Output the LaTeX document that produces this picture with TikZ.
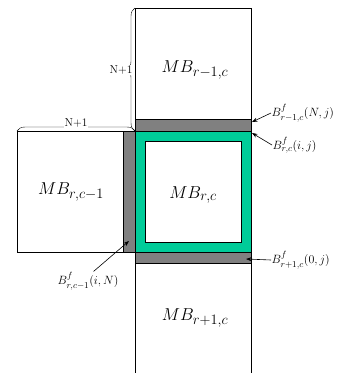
\documentclass[tikz,border=0pt]{standalone}
\usepackage{amsmath,amssymb}
\usetikzlibrary{decorations.pathreplacing}
\usetikzlibrary{positioning,arrows.meta}

\definecolor{franjagris}{RGB}{128,128,128}
\definecolor{franjaverde}{RGB}{0,204,153}

\begin{document}
\begin{tikzpicture}[x=1pt,y=-1pt,>={Stealth[length=5.5pt,width=4pt]},
  bloque/.style={font=\fontsize{19}{22}\selectfont},
  frontera/.style={font=\fontsize{13}{15}\selectfont,inner sep=0.5pt},
  tamano/.style={fill=white,inner sep=1pt,font=\fontsize{11.5}{13}\selectfont},
  llave/.style={decorate,decoration={brace,amplitude=8pt}},
  flecha/.style={->,semithick}]

\useasboundingbox (0,0) rectangle (344,373);

%---------------------------------
% FRANJAS DE FRONTERA
%---------------------------------
\fill[franjagris] (135,119) rectangle (251,131);   % fila N del bloque superior
\fill[franjagris] (135,252) rectangle (251,263);   % fila 0 del bloque inferior
\fill[franjagris] (123,131) rectangle (135,252);   % columna N del bloque izquierdo
\fill[franjaverde] (135,131) rectangle (251,252);  % borde del bloque actual
\fill[white] (145,141) rectangle (241,242);

%---------------------------------
% CONTORNOS DE LOS BLOQUES
%---------------------------------
\draw (135,8) rectangle (251,119);
\draw (135,119) rectangle (251,131);
\draw (135,131) rectangle (251,252);
\draw (145,141) rectangle (241,242);
\draw (135,252) rectangle (251,263);
\draw (17,131) rectangle (123,252);
\draw (123,131) rectangle (135,252);
\draw (135,373) -- (135,263);
\draw (251,373) -- (251,263);

% nombres de los bloques
\node[bloque] (mbarriba) at (195,70) {$MB_{r-1,c}$};
\node[bloque] (mbizq) at (71,192) {$MB_{r,c-1}$};
\node[bloque] (mbcentro) at (193,195) {$MB_{r,c}$};
\node[bloque] (mbabajo) at (195,318) {$MB_{r+1,c}$};

%---------------------------------
% LLAVES DE TAMAÑO
%---------------------------------
\draw[llave] (135,131) -- (135,8);
\draw[llave] (17,131) -- (135,131);
\node[tamano] (tamv) at (121,70) {N+1};
\node[tamano] (tamh) at (76,123) {N+1};

%---------------------------------
% ETIQUETAS DE LAS FRONTERAS
%---------------------------------
\coordinate (psup) at (252,122);
\coordinate (pcen) at (252,133);
\coordinate (pinf) at (246,259);
\coordinate (pizq) at (129,241);

\node[frontera,anchor=west] (bsup) at (271,113) {$B^{f}_{r-1,c}(N,j)$};
\node[frontera,anchor=west] (bcen) at (272,145) {$B^{f}_{r,c}(i,j)$};
\node[frontera,anchor=west] (binf) at (271,260) {$B^{f}_{r+1,c}(0,j)$};
\node[frontera] (bizq) at (88,281) {$B^{f}_{r,c-1}(i,N)$};

\draw[flecha] (bsup.west) -- (psup);
\draw[flecha] (bcen.west) -- (pcen);
\draw[flecha] (binf.west) -- (pinf);
\draw[flecha] (bizq.60) -- (pizq);

\end{tikzpicture}
\end{document}
